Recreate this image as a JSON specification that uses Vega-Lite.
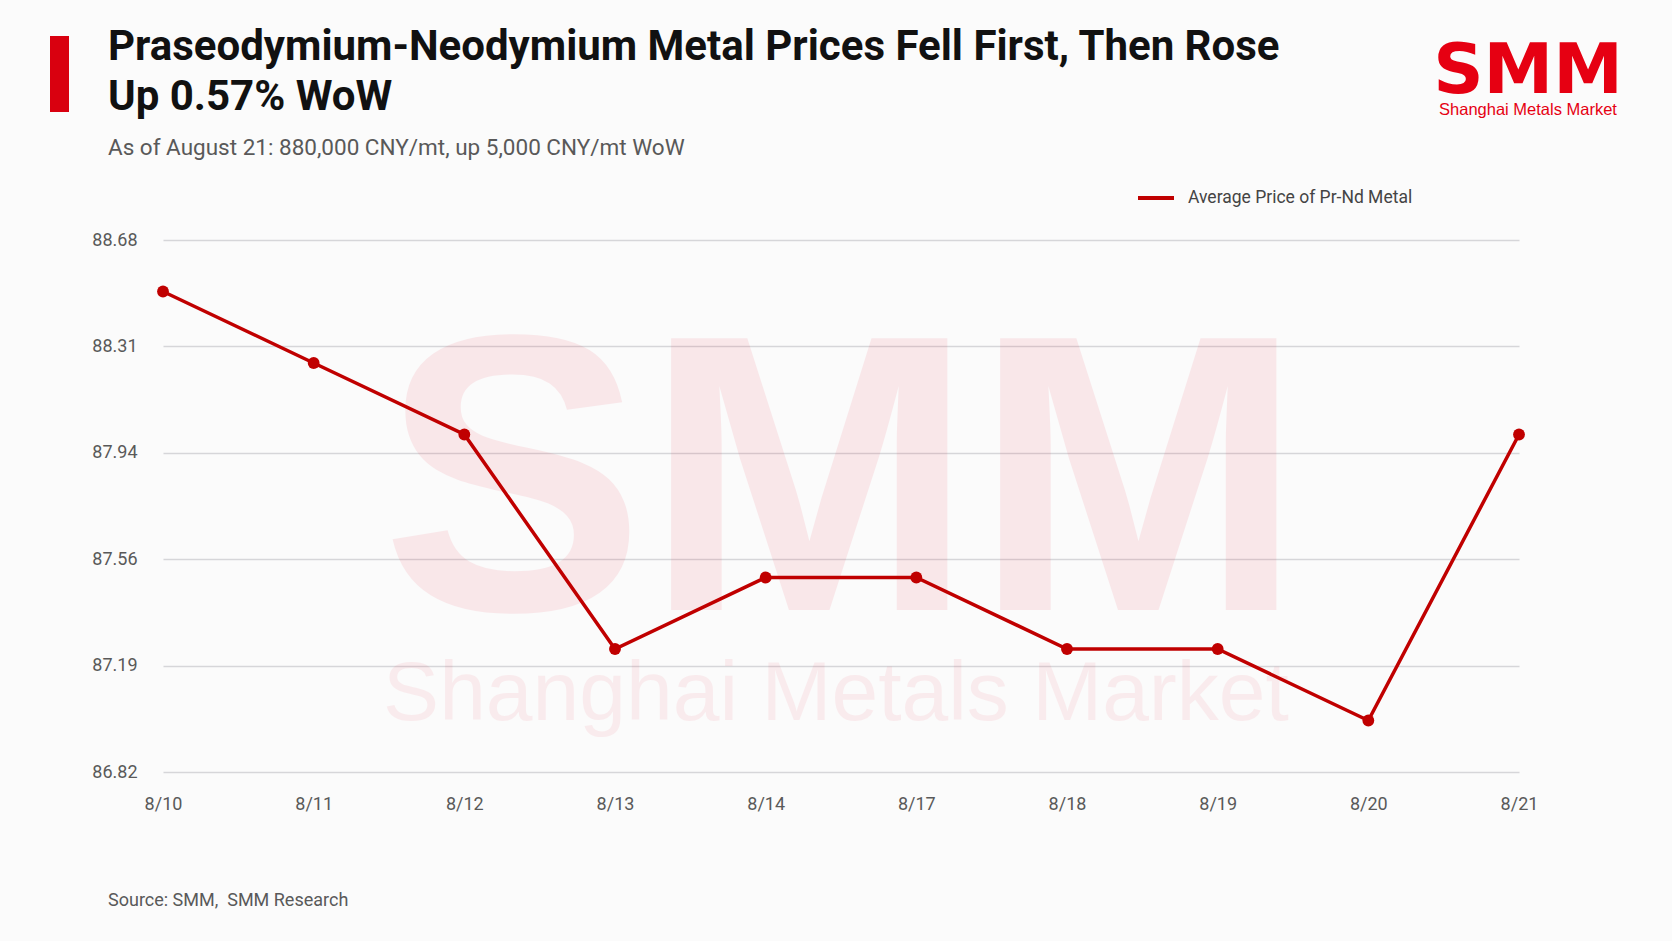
{
  "$schema": "https://vega.github.io/schema/vega-lite/v6.json",
  "width": 1356,
  "height": 532,
  "autosize": "none",
  "padding": {"left": 163, "top": 240, "right": 153, "bottom": 169},
  "background": "#fbfbfb",
  "config": {"view": {"stroke": null}, "font": "Roboto"},
  "title": {
    "text": ["Praseodymium-Neodymium Metal Prices Fell First, Then Rose", "Up 0.57% WoW"],
    "subtitle": "As of August 21: 880,000 CNY/mt, up 5,000 CNY/mt WoW",
    "anchor": "start",
    "frame": "group",
    "dx": -55,
    "font": "Roboto",
    "fontSize": 42,
    "fontWeight": "bold",
    "color": "#111111",
    "lineHeight": 50,
    "subtitleFont": "Roboto",
    "subtitleFontSize": 22.5,
    "subtitleColor": "#595959",
    "subtitlePadding": 18,
    "offset": -124
  },
  "layer": [
    {
      "data": {"values": [{"label": "SMM"}]},
      "mark": {"type": "text", "font": "Liberation Sans", "fontWeight": "bold", "fontSize": 395, "align": "center", "baseline": "alphabetic", "x": 679, "y": 370, "color": "#e8001f", "opacity": 0.075},
      "encoding": {"text": {"field": "label"}}
    },
    {
      "data": {"values": [{"label": "Shanghai Metals Market"}]},
      "mark": {"type": "text", "font": "Liberation Sans", "fontSize": 84, "align": "center", "baseline": "alphabetic", "x": 673, "y": 480, "color": "#e8001f", "opacity": 0.06},
      "encoding": {"text": {"field": "label"}}
    },
    {
      "data": {
        "values": [
          {"date": "8/10", "price": 88.5, "series": "Average Price of Pr-Nd Metal"},
          {"date": "8/11", "price": 88.25, "series": "Average Price of Pr-Nd Metal"},
          {"date": "8/12", "price": 88.0, "series": "Average Price of Pr-Nd Metal"},
          {"date": "8/13", "price": 87.25, "series": "Average Price of Pr-Nd Metal"},
          {"date": "8/14", "price": 87.5, "series": "Average Price of Pr-Nd Metal"},
          {"date": "8/17", "price": 87.5, "series": "Average Price of Pr-Nd Metal"},
          {"date": "8/18", "price": 87.25, "series": "Average Price of Pr-Nd Metal"},
          {"date": "8/19", "price": 87.25, "series": "Average Price of Pr-Nd Metal"},
          {"date": "8/20", "price": 87.0, "series": "Average Price of Pr-Nd Metal"},
          {"date": "8/21", "price": 88.0, "series": "Average Price of Pr-Nd Metal"}
        ]
      },
      "encoding": {
        "x": {
          "field": "date",
          "type": "ordinal",
          "sort": null,
          "scale": {"type": "point", "padding": 0},
          "axis": {"title": null, "labelAngle": 0, "ticks": false, "tickSize": 0, "domain": false, "grid": false, "labelPadding": 23, "labelFontSize": 18, "labelColor": "#595959", "labelFont": "Roboto"}
        },
        "y": {
          "field": "price",
          "type": "quantitative",
          "scale": {"domain": [86.82, 88.68], "nice": false, "zero": false},
          "axis": {"title": null, "values": [86.82, 87.192, 87.564, 87.936, 88.308, 88.68], "format": ".2f", "ticks": false, "tickSize": 0, "domain": false, "labelPadding": 26, "labelFontSize": 18, "labelColor": "#595959", "labelFont": "Roboto", "gridColor": "#d6d6d9", "gridWidth": 1.5}
        }
      },
      "layer": [
        {
          "mark": {"type": "line", "strokeWidth": 3.5},
          "encoding": {
            "color": {
              "field": "series",
              "type": "nominal",
              "scale": {"range": ["#c00000"]},
              "legend": {"title": null, "orient": "none", "legendX": 973, "legendY": -62, "padding": 0, "symbolType": "stroke", "symbolSize": 1296, "symbolStrokeWidth": 4, "labelOffset": 12, "labelLimit": 400, "labelFontSize": 17.5, "labelColor": "#444444", "labelFont": "Roboto"}
            }
          }
        },
        {
          "mark": {"type": "point", "filled": true, "size": 140, "color": "#c00000", "opacity": 1}
        }
      ]
    },
    {
      "data": {"values": [{"label": "SMM"}]},
      "mark": {"type": "text", "font": "DejaVu Sans", "fontWeight": "bold", "fontSize": 70, "align": "center", "baseline": "alphabetic", "x": 1365, "y": -147, "color": "#e60012"},
      "encoding": {"text": {"field": "label"}}
    },
    {
      "data": {"values": [{"label": "Shanghai Metals Market"}]},
      "mark": {"type": "text", "font": "Liberation Sans", "fontSize": 16.5, "align": "center", "baseline": "alphabetic", "x": 1365, "y": -125, "color": "#e60012"},
      "encoding": {"text": {"field": "label"}}
    },
    {
      "data": {"values": [{"label": "bar"}]},
      "mark": {"type": "rect", "x": -113, "x2": -94, "y": -204, "y2": -128, "color": "#d9000f"},
      "encoding": {}
    },
    {
      "data": {"values": [{"label": "Source: SMM,\u00a0 SMM Research"}]},
      "mark": {"type": "text", "font": "Roboto", "fontSize": 18, "align": "left", "baseline": "alphabetic", "x": -55, "y": 666, "color": "#595959"},
      "encoding": {"text": {"field": "label"}}
    }
  ]
}
